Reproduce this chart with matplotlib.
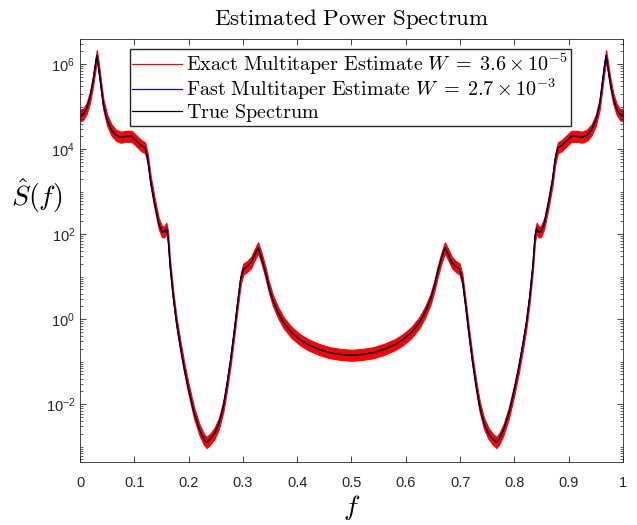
import numpy as np
import matplotlib
matplotlib.use("Agg")
import matplotlib.pyplot as plt
from matplotlib.lines import Line2D
from matplotlib.ticker import LogLocator, FixedLocator, FormatStrFormatter, NullFormatter

plt.rcParams.update({
    "font.family": "Liberation Sans",
    "mathtext.fontset": "cm",
    "font.size": 10,
})

# frequency and log10 of the true spectrum
f_true = [
    0.000, 0.006, 0.012, 0.018, 0.024, 0.028, 0.031, 0.034, 0.038, 0.043,
    0.050, 0.058, 0.066, 0.075, 0.085, 0.095, 0.105, 0.113, 0.120, 0.125,
    0.130, 0.137, 0.145, 0.151, 0.155, 0.159, 0.162, 0.166, 0.172, 0.178,
    0.185, 0.192, 0.200, 0.210, 0.220, 0.228, 0.233, 0.240, 0.248, 0.256,
    0.264, 0.270, 0.277, 0.284, 0.290, 0.296, 0.301, 0.308, 0.315, 0.321,
    0.328, 0.334, 0.341, 0.348, 0.355, 0.365, 0.375, 0.390, 0.405, 0.420,
    0.440, 0.460, 0.480, 0.500,
    0.520, 0.540, 0.560, 0.580, 0.595, 0.610, 0.625, 0.635, 0.645, 0.652,
    0.659, 0.666, 0.672, 0.679, 0.685, 0.692, 0.699, 0.704, 0.710, 0.716,
    0.723, 0.730, 0.736, 0.744, 0.752, 0.760, 0.767, 0.772, 0.780, 0.790,
    0.800, 0.808, 0.815, 0.822, 0.828, 0.834, 0.838, 0.841, 0.845, 0.849,
    0.855, 0.863, 0.870, 0.875, 0.880, 0.887, 0.895, 0.905, 0.915, 0.925,
    0.934, 0.942, 0.950, 0.957, 0.962, 0.966, 0.969, 0.972, 0.976, 0.982,
    0.988, 0.994, 1.000,
]
log_s_true = [
    4.78, 4.82, 4.95, 5.20, 5.60, 5.95, 6.20, 5.95, 5.55, 5.05,
    4.68, 4.45, 4.33, 4.28, 4.30, 4.30, 4.18, 4.08, 4.03, 3.75,
    3.25, 2.75, 2.25, 2.06, 2.05, 2.14, 1.95, 1.25, 0.50, -0.10,
    -0.65, -1.15, -1.65, -2.20, -2.60, -2.82, -2.90, -2.82, -2.68, -2.45,
    -2.05, -1.60, -1.00, -0.30, 0.35, 0.95, 1.18, 1.24, 1.33, 1.50,
    1.68, 1.45, 1.13, 0.75, 0.45, 0.15, -0.08, -0.32, -0.48, -0.60,
    -0.71, -0.79, -0.83, -0.85,
    -0.83, -0.79, -0.71, -0.60, -0.48, -0.32, -0.08, 0.15, 0.45, 0.75,
    1.13, 1.45, 1.68, 1.50, 1.33, 1.24, 1.18, 0.95, 0.35, -0.30,
    -1.00, -1.60, -2.05, -2.45, -2.68, -2.82, -2.90, -2.82, -2.60, -2.20,
    -1.65, -1.15, -0.65, -0.10, 0.50, 1.25, 1.95, 2.14, 2.05, 2.06,
    2.25, 2.75, 3.25, 3.75, 4.03, 4.08, 4.18, 4.30, 4.30, 4.28,
    4.33, 4.45, 4.68, 5.05, 5.55, 5.95, 6.20, 5.95, 5.60, 5.20,
    4.95, 4.82, 4.78,
]

# spread of the noisy exact estimate around the true spectrum (decades)
exact_spread = 0.13

x_ticks = [0, 0.1, 0.2, 0.3, 0.4, 0.5, 0.6, 0.7, 0.8, 0.9, 1]
y_ticks = [1e-2, 1e0, 1e2, 1e4, 1e6]

labels = [
    r"$\mathrm{Exact\ Multitaper\ Estimate}\ W\;=\;3.6 \times 10^{-5}$",
    r"$\mathrm{Fast\ Multitaper\ Estimate}\ W\;=\;2.7 \times 10^{-3}$",
    r"$\mathrm{True\ Spectrum}$",
]
colors = ["#ff0000", "#0000ff", "#000000"]

f = np.array(f_true)
s = 10.0 ** np.array(log_s_true)
lo = 10.0 ** (np.array(log_s_true) - exact_spread)
hi = 10.0 ** (np.array(log_s_true) + exact_spread)

fig = plt.figure(figsize=(6.37, 5.25), dpi=100)
ax = fig.add_axes([0.1256, 0.12, 0.8524, 0.8057])

ax.fill_between(f, lo, hi, color=colors[0], linewidth=0.8, edgecolor=colors[0])
ax.plot(f, s, color=colors[1], linewidth=1.0)
ax.plot(f, s, color=colors[2], linewidth=0.9)

ax.set_yscale("log")
ax.set_xlim(0, 1)
ax.set_ylim(10 ** -3.36, 10 ** 6.59)

ax.xaxis.set_major_locator(FixedLocator(x_ticks))
ax.xaxis.set_major_formatter(FormatStrFormatter("%g"))
ax.yaxis.set_major_locator(FixedLocator(y_ticks))
ax.yaxis.set_minor_locator(LogLocator(base=10, subs=np.arange(1, 10), numticks=100))
ax.yaxis.set_minor_formatter(NullFormatter())

axis_gray = "#262626"
ax.tick_params(which="both", direction="in", top=True, right=True,
               colors=axis_gray, labelcolor=axis_gray)
ax.tick_params(which="major", length=4, width=0.6, labelsize=10.5)
ax.tick_params(which="minor", length=2, width=0.5)
ax.tick_params(axis="x", pad=10)
for sp in ax.spines.values():
    sp.set_color(axis_gray)
    sp.set_linewidth(0.6)

ax.set_title(r"$\mathrm{Estimated\ Power\ Spectrum}$", fontsize=16.5, pad=10)
ax.set_xlabel(r"$f$", fontsize=20, labelpad=0)
ax.xaxis.set_label_coords(0.5, -0.108)
ax.set_ylabel(r"$\hat{S}(f)$", fontsize=20, rotation=0)
ax.yaxis.set_label_coords(-0.079, 0.631)
ax.yaxis.label.set_verticalalignment("center")
ax.yaxis.label.set_horizontalalignment("center")
ax.xaxis.label.set_verticalalignment("center")

handles = [Line2D([0], [0], color=c, linewidth=0.9, label=l)
           for c, l in zip(colors, labels)]
ax.legend(handles=handles, loc="upper left", bbox_to_anchor=(0.092, 0.976),
          fontsize=14.5, frameon=True, fancybox=False, edgecolor=axis_gray,
          framealpha=1, borderpad=0.1, labelspacing=0.0, handlelength=2.5,
          handletextpad=0.2, borderaxespad=0)

fig.savefig("out.png", dpi=100)
